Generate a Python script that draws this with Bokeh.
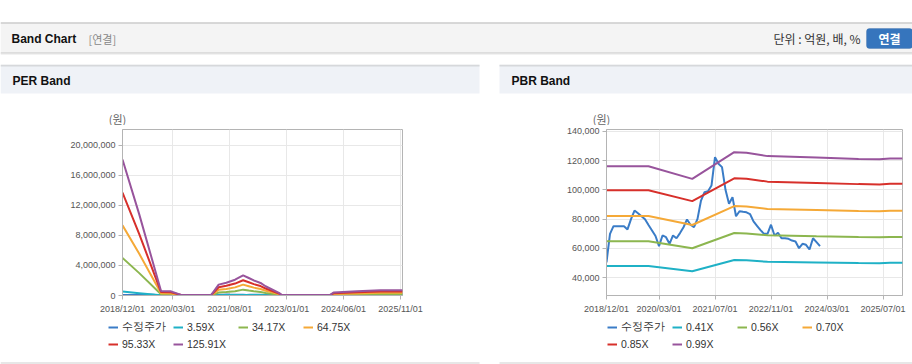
from bokeh.plotting import figure
from bokeh.layouts import column, row
from bokeh.models import (Range1d, FixedTicker, NumeralTickFormatter, Legend, LegendItem,
                          Label, BoxAnnotation)
from bokeh.embed import file_html
from bokeh.resources import INLINE

# ---------------- data ----------------
# month index: 0 = 2018/12
price_month = list(range(62))
price = [50600, 70000, 75200, 75200, 75200, 75200, 73000, 80000, 85900, 84000,
         82000, 80000, 76000, 72300, 68500, 61600, 68900, 67700, 63200, 68900,
         67000, 70500, 74500, 79800, 76200, 74500, 80200, 92700, 98400, 99100,
         103000, 122300, 117800, 115500, 100000, 90500, 95000, 82000, 85400, 85000,
         84700, 83500, 78500, 75500, 72500, 70000, 70000, 76200, 68900, 70700,
         67000, 67000, 66600, 65400, 64800, 60200, 63200, 62500, 59300, 67000,
         64300, 61600]

per_month = [0, 5, 11.5, 14.5, 17.5, 26.5, 28.7, 31, 33.6, 36, 37.7, 39.2, 41.2,
             42.7, 46.7, 47.5, 62, 63, 70, 77, 83.6]
per_359 = [0.52, 0.31, 0.02, 0.02, 0.0, 0.0, 0.04, 0.05, 0.06, 0.08, 0.07, 0.06, 0.05,
           0.04, 0.01, 0.0, 0.0, 0.01, 0.02, 0.02, 0.02]
per_3417 = [5.0, 2.98, 0.16, 0.15, 0.02, 0.02, 0.39, 0.46, 0.57, 0.78, 0.66, 0.56, 0.46,
            0.33, 0.09, 0.02, 0.02, 0.11, 0.15, 0.19, 0.19]
per_6475 = [9.35, 5.55, 0.31, 0.28, 0.04, 0.04, 0.75, 0.87, 1.08, 1.45, 1.24, 1.05, 0.86,
            0.63, 0.18, 0.04, 0.04, 0.21, 0.28, 0.36, 0.36]
per_9533 = [13.7, 8.18, 0.45, 0.42, 0.06, 0.06, 1.10, 1.29, 1.59, 2.03, 1.76, 1.51, 1.26,
            0.93, 0.26, 0.06, 0.06, 0.30, 0.42, 0.53, 0.53]
per_12591 = [18.1, 10.8, 0.6, 0.55, 0.08, 0.08, 1.45, 1.7, 2.1, 2.68, 2.33, 2.0, 1.67,
             1.23, 0.35, 0.08, 0.08, 0.4, 0.55, 0.7, 0.7]  # millions of won

pbr_month = [0, 12, 24.5, 36.5, 40, 46, 60, 72, 78, 81, 84.6]
pbr_041 = [48.1, 48.1, 44.5, 52.1, 51.9, 50.9, 50.5, 50.1, 50.0, 50.3, 50.3]
pbr_056 = [65.0, 65.0, 60.2, 70.6, 70.3, 69.0, 68.3, 67.8, 67.6, 67.9, 67.9]
pbr_070 = [82.1, 82.1, 76.0, 88.9, 88.6, 87.0, 86.3, 85.6, 85.4, 85.8, 85.8]
pbr_085 = [99.7, 99.7, 92.3, 107.9, 107.6, 105.6, 104.7, 103.9, 103.7, 104.2, 104.2]
pbr_099 = [116.1, 116.1, 107.5, 125.7, 125.3, 123.0, 122.0, 121.0, 120.8, 121.4, 121.4]  # thousands of won

per_labels = ["수정주가", "3.59X", "34.17X", "64.75X", "95.33X", "125.91X"]
pbr_labels = ["수정주가", "0.41X", "0.56X", "0.70X", "0.85X", "0.99X"]

per_tick_month = [0, 15, 32, 49, 66, 83]
per_tick_label = ["2018/12/01", "2020/03/01", "2021/08/01", "2023/01/01", "2024/06/01", "2025/11/01"]
pbr_tick_month = [0, 15, 31, 47, 63, 79]
pbr_tick_label = ["2018/12/01", "2020/03/01", "2021/07/01", "2022/11/01", "2024/03/01", "2025/07/01"]
per_yticks = [0, 4000000, 8000000, 12000000, 16000000, 20000000]
pbr_yticks = [40000, 60000, 80000, 100000, 120000, 140000]

COLORS = ["#3a7cc7", "#1fb1c6", "#8cb64f", "#f5a937", "#d7302b", "#98549c"]
LATIN = "Liberation Sans"
KR = "Noto Sans CJK KR"
W = 912


def canvas(w, h, bg="white"):
    p = figure(width=w, height=h, x_range=Range1d(0, w), y_range=Range1d(0, h),
               toolbar_location=None, output_backend="svg", min_border=0,
               x_axis_location=None, y_axis_location=None)
    p.grid.visible = False
    p.outline_line_color = None
    p.background_fill_color = bg
    p.border_fill_color = bg
    return p


def box(p, l, r, b, t, color):
    p.add_layout(BoxAnnotation(left=l, right=r, bottom=b, top=t, fill_color=color,
                               fill_alpha=1, line_color=None))


# ---------------- header (page y 0..64) ----------------
hdr = canvas(W, 64)
box(hdr, 0, W, 11, 42, "#f4f4f4")
box(hdr, 0, W, 41, 42, "#b8b8b8")
box(hdr, 0, W, 11, 12, "#c6c6c6")
box(hdr, 0, W, 10, 11, "#e6e6e6")
hdr.add_layout(Label(x=11, y=26, text="Band Chart", text_font=LATIN, text_font_size="12px",
                     text_font_style="bold", text_color="#111", text_baseline="middle"))
hdr.add_layout(Label(x=88, y=26, text="[연결]", text_font=KR, text_font_size="11px",
                     text_color="#888", text_baseline="middle"))
hdr.add_layout(Label(x=860, y=26, text="단위 : 억원, 배, %", text_font=KR, text_font_size="12px",
                     text_color="#333", text_baseline="middle", text_align="right"))
hdr.add_layout(BoxAnnotation(left=866, right=912, bottom=16, top=36, fill_color="#3675bd",
                             fill_alpha=1, line_color="#2d629f", border_radius=3))
hdr.add_layout(Label(x=889, y=26, text="연결", text_font=KR, text_font_size="12px",
                     text_font_style="bold", text_color="white", text_baseline="middle",
                     text_align="center"))

# ---------------- panel title bars + unit labels (page y 64..125) ----------------
ttl = canvas(W, 61)
for l, r in [(0, 479), (499, W)]:
    box(ttl, l, r, 32, 61, "#eff2f7")
    box(ttl, l, r, 59, 61, "#d6d8db")
ttl.add_layout(Label(x=12, y=45, text="PER Band", text_font=LATIN, text_font_size="12px",
                     text_font_style="bold", text_color="#111", text_baseline="middle"))
ttl.add_layout(Label(x=511, y=45, text="PBR Band", text_font=LATIN, text_font_size="12px",
                     text_font_style="bold", text_color="#111", text_baseline="middle"))
for ux in (117, 601):
    ttl.add_layout(Label(x=ux, y=7, text="(원)", text_font=KR, text_font_size="11px",
                         text_color="#666", text_align="center", text_baseline="middle"))


# ---------------- charts (page y 125..316) ----------------
def chart(width, mleft, mright, mtop, mbottom, xmax, y0, y1, yticks, xticks, xlabels,
          xs_list, ys_list):
    p = figure(width=width, height=191, x_range=Range1d(0, xmax), y_range=Range1d(y0, y1),
               toolbar_location=None, output_backend="svg",
               min_border_left=mleft, min_border_right=mright,
               min_border_top=mtop, min_border_bottom=mbottom)
    p.background_fill_color = "white"
    p.border_fill_color = "white"
    p.outline_line_color = "#b4b4b4"
    p.xaxis.ticker = FixedTicker(ticks=xticks)
    p.xaxis.major_label_overrides = {t: s for t, s in zip(xticks, xlabels)}
    p.yaxis.ticker = FixedTicker(ticks=yticks)
    p.yaxis.formatter = NumeralTickFormatter(format="0,0")
    for ax in (p.xaxis, p.yaxis):
        ax.axis_line_color = "#b4b4b4"
        ax.major_tick_line_color = "#b4b4b4"
        ax.major_tick_out = 4
        ax.major_tick_in = 0
        ax.minor_tick_line_color = None
        ax.major_label_text_font = LATIN
        ax.major_label_text_font_size = "9px"
        ax.major_label_text_color = "#555"
    p.xaxis.major_label_standoff = 4
    p.yaxis.major_label_standoff = 3
    p.grid.grid_line_color = "#e8e8e8"
    for xs, ys, col in zip(xs_list, ys_list, COLORS):
        p.line(xs, ys, line_color=col, line_width=2)
    return p


per_series = [price] + [[v * 1e6 for v in s] for s in
                        (per_359, per_3417, per_6475, per_9533, per_12591)]
per_xs = [price_month] + [per_month] * 5
pbr_series = [price] + [[v * 1e3 for v in s] for s in (pbr_041, pbr_056, pbr_070, pbr_085, pbr_099)]
pbr_xs = [price_month] + [pbr_month] * 5

per = chart(499, 122, 97, 3, 20, 83.58, 0, 22100000, per_yticks, per_tick_month,
            per_tick_label, per_xs, per_series)
pbr = chart(413, 107, 10, 4, 21, 84.57, 27930, 141160, pbr_yticks, pbr_tick_month,
            pbr_tick_label, pbr_xs, pbr_series)

# ---------------- legends + bottom border (page y 316..364) ----------------
leg = canvas(W, 48)
box(leg, 0, 479, 1, 2, "#d0d0d0")
box(leg, 499, W, 1, 2, "#d0d0d0")
for labels, xs_list, ys_list, lx in ((per_labels, per_xs, per_series, 108),
                                     (pbr_labels, pbr_xs, pbr_series, 607)):
    items = []
    for lab, xs, ys, col in zip(labels, xs_list, ys_list, COLORS):
        # legend key renderer: first data point of the series (lies off this strip's range)
        r = leg.line(x=xs[:1], y=ys[:1], line_color=col, line_width=2)
        items.append(LegendItem(label=lab, renderers=[r]))
    leg.add_layout(Legend(items=items, location=(lx, 13), orientation="horizontal", ncols=4,
                          glyph_width=10, glyph_height=14, label_height=14, label_width=48,
                          label_standoff=4, spacing=3, padding=0, margin=0,
                          border_line_color=None, background_fill_alpha=0,
                          label_text_font=LATIN, label_text_font_size="10.5px",
                          label_text_color="#333"))

layout = column(hdr, ttl, row(per, pbr), leg)
open("out.html", "w").write(file_html(layout, INLINE))
